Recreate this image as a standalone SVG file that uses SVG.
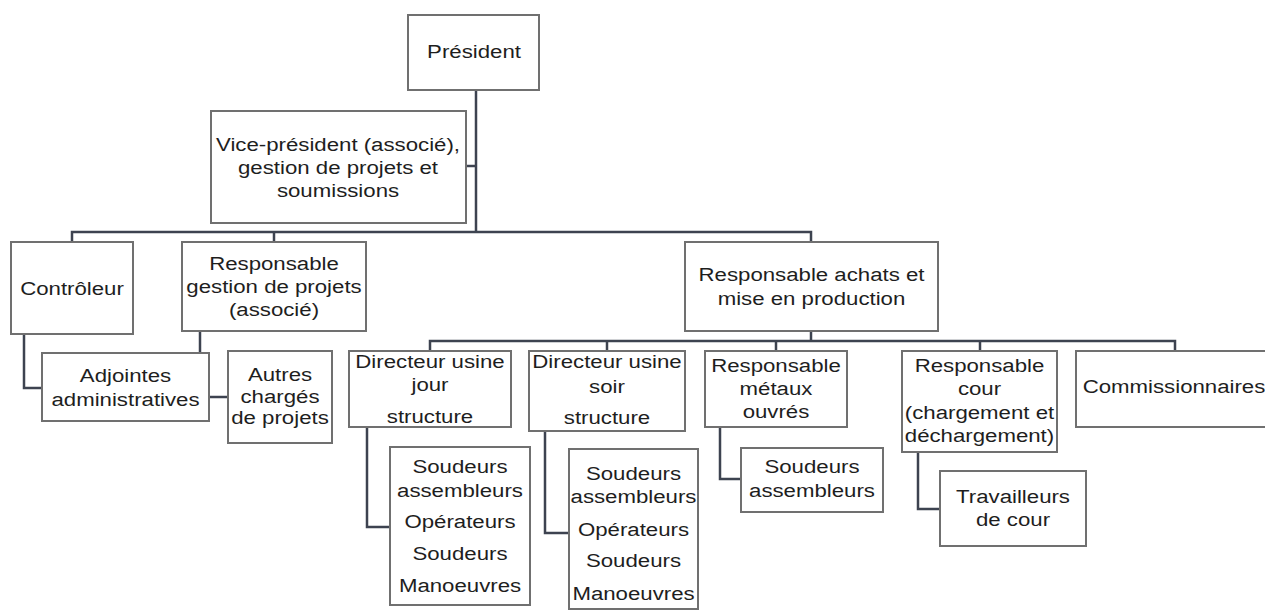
<svg xmlns="http://www.w3.org/2000/svg" width="1265" height="612" viewBox="0 0 1265 612">
<style>
.box{fill:#ffffff;stroke:#707070;stroke-width:2}
.conn{fill:none;stroke:#3d4350;stroke-width:2.5}
text{font-family:"Liberation Sans",Arial,sans-serif;font-size:19px;fill:#1e1e1e;text-anchor:middle}
</style>
<rect width="1265" height="612" fill="#ffffff"/>
<g id="connectors">
<path class="conn" d="M476 90V232"/>
<path class="conn" d="M466 166H476"/>
<path class="conn" d="M72 242V232H811V242"/>
<path class="conn" d="M274 232V242"/>
<path class="conn" d="M24 334V388H42"/>
<path class="conn" d="M200 331V353"/>
<path class="conn" d="M209 397H228"/>
<path class="conn" d="M811 331V341"/>
<path class="conn" d="M430 351V341H1175V351"/>
<path class="conn" d="M607 341V351"/>
<path class="conn" d="M776 341V351"/>
<path class="conn" d="M980 341V351"/>
<path class="conn" d="M367 427V527H390"/>
<path class="conn" d="M545 431V533H569"/>
<path class="conn" d="M720 427V479H741"/>
<path class="conn" d="M918 452V509H940"/>
</g>
<g id="president">
<rect class="box" x="408" y="15" width="131" height="75"/>
<text transform="translate(474,58) scale(1.17,1)">Président</text>
</g>
<g id="vice-president">
<rect class="box" x="211" y="111" width="255" height="112"/>
<text transform="translate(338,151) scale(1.17,1)"><tspan x="0">Vice-président (associé),</tspan><tspan x="0" dy="23">gestion de projets et</tspan><tspan x="0" dy="23">soumissions</tspan></text>
</g>
<g id="controleur">
<rect class="box" x="11" y="242" width="122" height="92"/>
<text transform="translate(72,295) scale(1.17,1)">Contrôleur</text>
</g>
<g id="resp-gestion">
<rect class="box" x="182" y="242" width="184" height="89"/>
<text transform="translate(274,270) scale(1.17,1)"><tspan x="0">Responsable</tspan><tspan x="0" dy="23">gestion de projets</tspan><tspan x="0" dy="23">(associé)</tspan></text>
</g>
<g id="adjointes">
<rect class="box" x="42" y="353" width="167" height="68"/>
<text transform="translate(125.5,382) scale(1.17,1)"><tspan x="0">Adjointes</tspan><tspan x="0" dy="24">administratives</tspan></text>
</g>
<g id="autres">
<rect class="box" x="228" y="351" width="104" height="92"/>
<text transform="translate(280,381) scale(1.17,1)"><tspan x="0">Autres</tspan><tspan x="0" dy="22">chargés</tspan><tspan x="0" dy="21">de projets</tspan></text>
</g>
<g id="resp-achats">
<rect class="box" x="685" y="242" width="253" height="89"/>
<text transform="translate(811.5,281) scale(1.17,1)"><tspan x="0">Responsable achats et</tspan><tspan x="0" dy="24">mise en production</tspan></text>
</g>
<g id="dir-jour">
<rect class="box" x="349" y="351" width="162" height="76"/>
<text transform="translate(430,368) scale(1.17,1)"><tspan x="0">Directeur usine</tspan><tspan x="0" dy="23">jour</tspan><tspan x="0" dy="32">structure</tspan></text>
</g>
<g id="dir-soir">
<rect class="box" x="529" y="351" width="156" height="80"/>
<text transform="translate(607,368) scale(1.17,1)"><tspan x="0">Directeur usine</tspan><tspan x="0" dy="25">soir</tspan><tspan x="0" dy="31">structure</tspan></text>
</g>
<g id="resp-metaux">
<rect class="box" x="705" y="351" width="142" height="76"/>
<text transform="translate(776,372) scale(1.17,1)"><tspan x="0">Responsable</tspan><tspan x="0" dy="23">métaux</tspan><tspan x="0" dy="23">ouvrés</tspan></text>
</g>
<g id="resp-cour">
<rect class="box" x="902" y="351" width="155" height="101"/>
<text transform="translate(979.5,372) scale(1.17,1)"><tspan x="0">Responsable</tspan><tspan x="0" dy="23">cour</tspan><tspan x="0" dy="24">(chargement et</tspan><tspan x="0" dy="23">déchargement)</tspan></text>
</g>
<g id="commissionnaires">
<rect class="box" x="1076" y="351" width="200" height="76"/>
<text transform="translate(1174,393) scale(1.17,1)">Commissionnaires</text>
</g>
<g id="equipe-jour">
<rect class="box" x="390" y="447" width="140" height="158"/>
<text transform="translate(460,473) scale(1.17,1)"><tspan x="0">Soudeurs</tspan><tspan x="0" dy="24">assembleurs</tspan><tspan x="0" dy="31">Opérateurs</tspan><tspan x="0" dy="32">Soudeurs</tspan><tspan x="0" dy="32">Manoeuvres</tspan></text>
</g>
<g id="equipe-soir">
<rect class="box" x="569" y="449" width="129" height="160"/>
<text transform="translate(633.5,480) scale(1.17,1)"><tspan x="0">Soudeurs</tspan><tspan x="0" dy="23">assembleurs</tspan><tspan x="0" dy="33">Opérateurs</tspan><tspan x="0" dy="31">Soudeurs</tspan><tspan x="0" dy="33">Manoeuvres</tspan></text>
</g>
<g id="equipe-metaux">
<rect class="box" x="741" y="448" width="142" height="64"/>
<text transform="translate(812,473) scale(1.17,1)"><tspan x="0">Soudeurs</tspan><tspan x="0" dy="24">assembleurs</tspan></text>
</g>
<g id="travailleurs-cour">
<rect class="box" x="940" y="471" width="146" height="75"/>
<text transform="translate(1013,503) scale(1.17,1)"><tspan x="0">Travailleurs</tspan><tspan x="0" dy="23">de cour</tspan></text>
</g>
</svg>
